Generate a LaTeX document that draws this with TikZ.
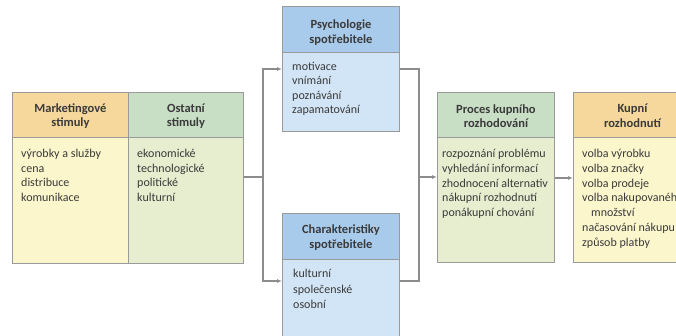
\documentclass[tikz,border=0pt]{standalone}
\usepackage{fontspec}
\setmainfont{Carlito}
\usetikzlibrary{calc,arrows.meta}
\definecolor{edge}{HTML}{9A9A9A}
\definecolor{wire}{HTML}{8C8C8C}
\definecolor{ink}{HTML}{3A3A3A}
\definecolor{orHead}{HTML}{F6D89C}
\definecolor{orBody}{HTML}{FBF6CC}
\definecolor{grHead}{HTML}{C8DEC5}
\definecolor{grBody}{HTML}{E6EECF}
\definecolor{blHead}{HTML}{A8CBEB}
\definecolor{blBody}{HTML}{D2E5F6}
\tikzset{
  panel/.style={draw=edge, line width=0.9pt, inner sep=0pt, anchor=north west},
  headtxt/.style={font=\bfseries\fontsize{12.5}{14.5}\selectfont, text=ink, align=center, inner sep=0pt},
  bodytxt/.style={font=\fontsize{12}{14.5}\selectfont, text=ink, align=left, inner sep=0pt, anchor=north west},
  conn/.style={draw=wire, line width=1.1pt},
  arr/.style={conn, -{Latex[length=5pt,width=4pt]}}
}
\begin{document}
\begin{tikzpicture}[x=1pt, y=-1pt]
\useasboundingbox (0,0) rectangle (676,336);
\begin{scope}
\clip (0,0) rectangle (676,336);
% external stimuli
\node[panel, fill=orHead, minimum width=116pt, minimum height=45pt] (mhead) at (12,92) {};
\node[panel, fill=orBody, minimum width=116pt, minimum height=126pt] (mbody) at (12,137) {};
\node[panel, fill=grHead, minimum width=115pt, minimum height=45pt] (ohead) at (128,92) {};
\node[panel, fill=grBody, minimum width=115pt, minimum height=126pt] (obody) at (128,137) {};
% buyer's black box
\node[panel, fill=blHead, minimum width=117pt, minimum height=46pt] (phead) at (282,6) {};
\node[panel, fill=blBody, minimum width=117pt, minimum height=79pt] (pbody) at (282,52) {};
\node[panel, fill=blHead, minimum width=117pt, minimum height=46pt] (chead) at (282,213) {};
\node[panel, fill=blBody, minimum width=117pt, minimum height=80pt] (cbody) at (282,259) {};
% decision process and responses
\node[panel, fill=grHead, minimum width=117pt, minimum height=45pt] (rhead) at (437,92) {};
\node[panel, fill=grBody, minimum width=117pt, minimum height=125pt] (rbody) at (437,137) {};
\node[panel, fill=orHead, minimum width=118pt, minimum height=45pt] (khead) at (573,92) {};
\node[panel, fill=orBody, minimum width=118pt, minimum height=125pt] (kbody) at (573,137) {};

% headings
\node[headtxt] (mtitle) at ($(mhead.center)+(0,1)$) {Marketingové\\stimuly};
\node[headtxt] (otitle) at ($(ohead.center)+(0,1)$) {Ostatní\\stimuly};
\node[headtxt] (ptitle) at ($(phead.center)+(0,3)$) {Psychologie\\spotřebitele};
\node[headtxt] (ctitle) at ($(chead.center)+(0,1)$) {Charakteristiky\\spotřebitele};
\node[headtxt] (rtitle) at ($(rhead.center)+(0,1)$) {Proces kupního\\rozhodování};
\node[headtxt] (ktitle) at ($(khead.center)+(0,1)$) {Kupní\\rozhodnutí};

% lists
\node[bodytxt] (mlist) at ($(mbody.north west)+(9,12)$) {výrobky a služby\\cena\\distribuce\\komunikace};
\node[bodytxt] (olist) at ($(obody.north west)+(9,12)$) {ekonomické\\technologické\\politické\\kulturní};
\node[bodytxt] (plist) at ($(pbody.north west)+(10,10)$) {motivace\\vnímání\\poznávání\\zapamatování};
\node[bodytxt, font=\fontsize{12}{15.5}\selectfont] (clist) at ($(cbody.north west)+(11,10)$) {kulturní\\společenské\\osobní};
\node[bodytxt, font=\fontsize{12}{14.8}\selectfont] (rlist) at ($(rbody.north west)+(5,12)$) {rozpoznání problému\\vyhledání informací\\zhodnocení alternativ\\nákupní rozhodnutí\\ponákupní chování};
\node[bodytxt, font=\fontsize{12}{14.8}\selectfont] (klist) at ($(kbody.north west)+(9,12)$) {volba výrobku\\volba značky\\volba prodeje\\volba nakupovaného\\\hspace*{9pt}množství\\načasování nákupu\\způsob platby};
\end{scope}

% connectors
\coordinate (split) at (263,177);
\coordinate (merge) at (419,177);
\coordinate (pin) at (pbody.west |- 0,69);
\coordinate (cin) at (cbody.west |- 0,281);
\coordinate (pout) at (pbody.east |- 0,69);
\coordinate (cout) at (cbody.east |- 0,281);
\draw[conn] (obody.east |- split) -- (split);
\draw[arr] (split) |- (pin);
\draw[arr] (split) |- (cin);
\draw[conn] (pout) -| (merge);
\draw[conn] (cout) -| (merge);
\draw[arr] (merge) -- (rbody.west |- merge);
\draw[arr] (rbody.east |- 0,178) -- (kbody.west |- 0,178);
\end{tikzpicture}
\end{document}
